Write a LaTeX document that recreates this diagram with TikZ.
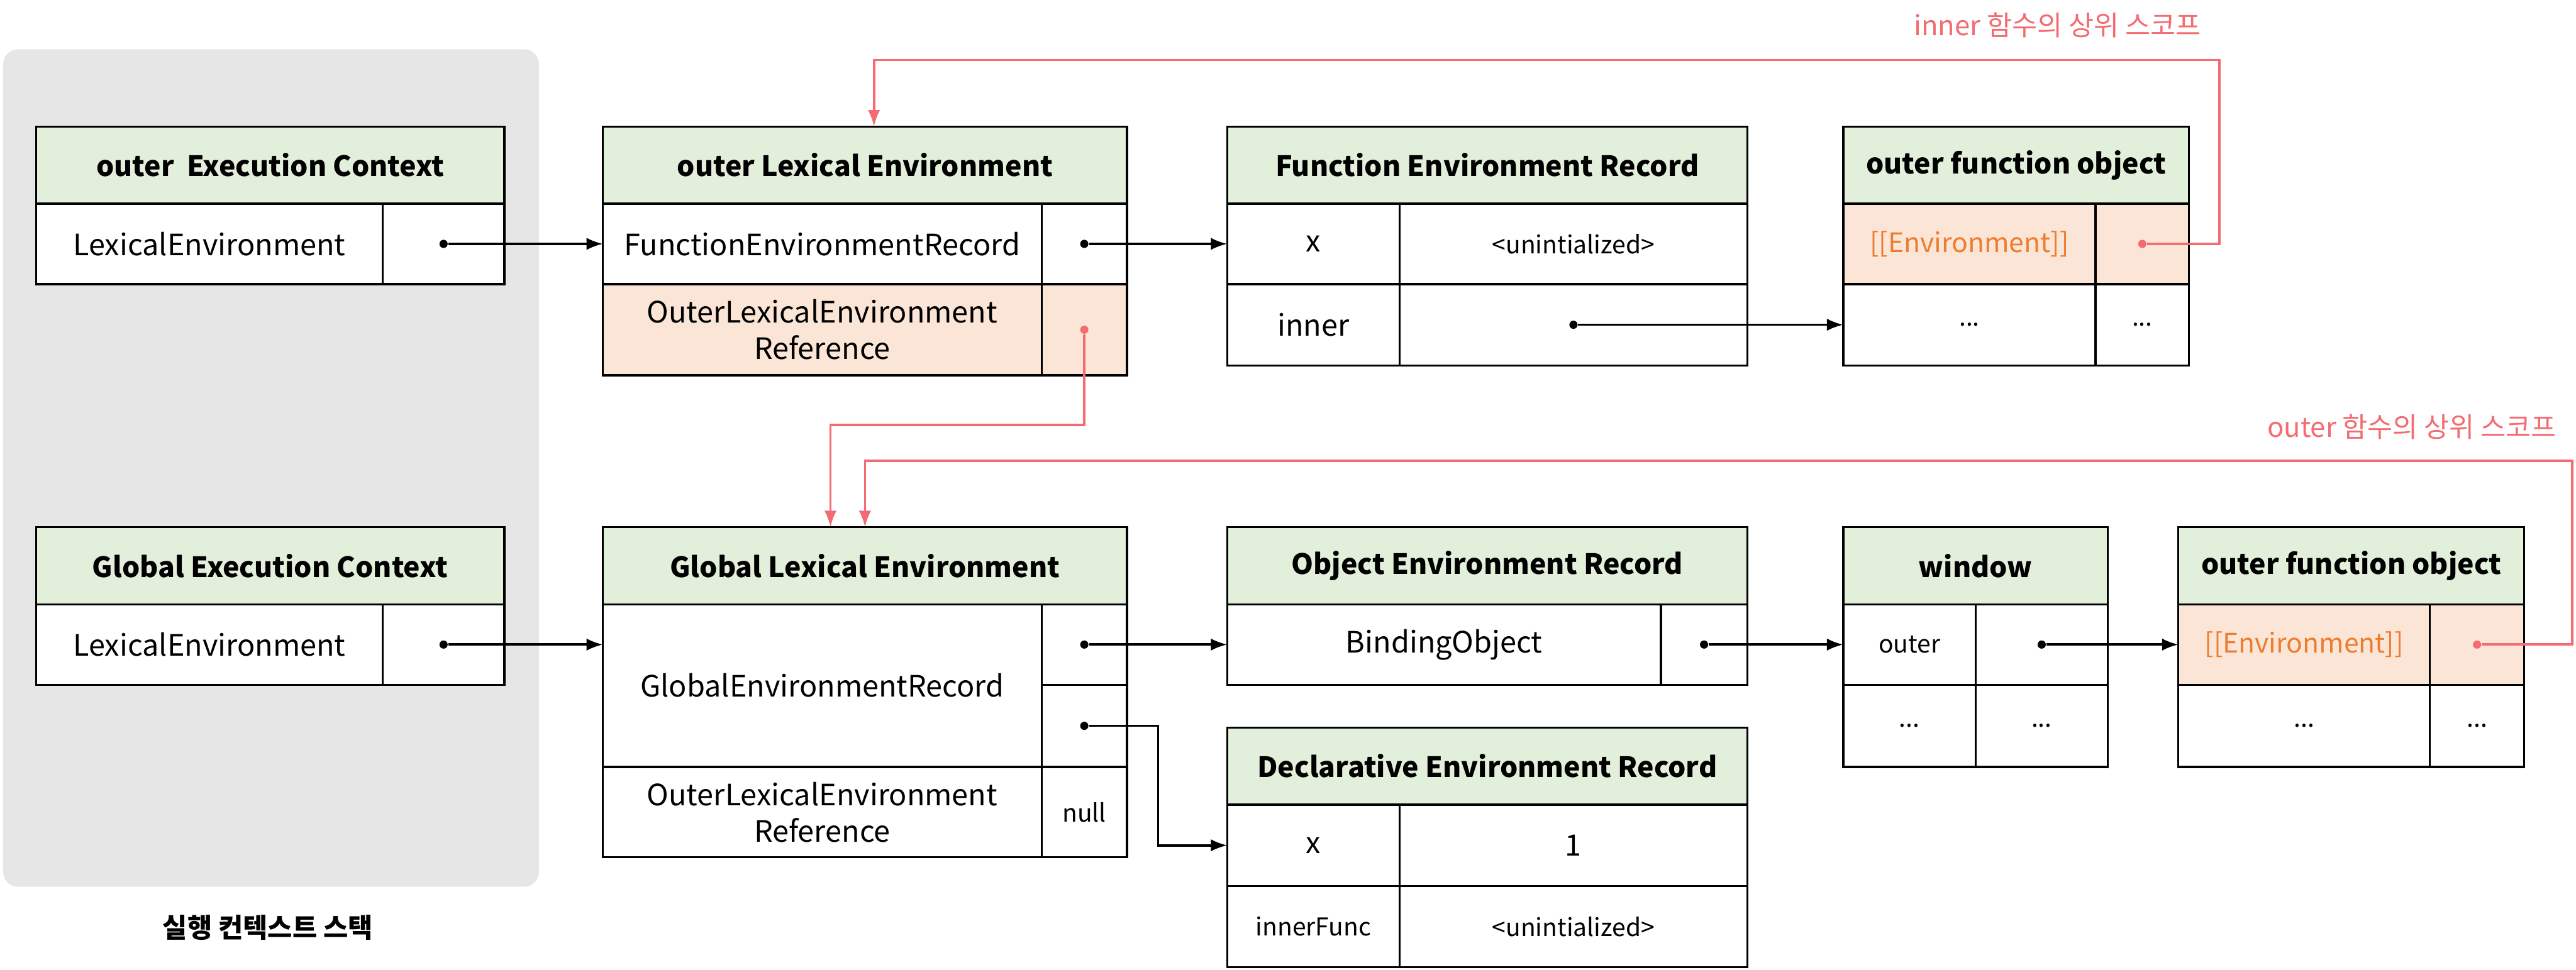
\documentclass[tikz,border=0pt]{standalone}
\usepackage{fontspec}
\setmainfont{Noto Sans CJK KR}
\usepackage{tikz}
\usetikzlibrary{arrows.meta}

\definecolor{hdgreen}{RGB}{226,239,218}
\definecolor{peach}{RGB}{251,229,214}
\definecolor{stackgray}{RGB}{230,230,230}
\definecolor{scopered}{RGB}{242,108,114}
\definecolor{envorange}{RGB}{237,125,49}

\begin{document}
\begin{tikzpicture}[x=0.02cm, y=-0.02cm,
  box/.style 2 args={draw, fill=white, line width=0.7pt, inner sep=0pt, outer sep=0pt, anchor=north west,
    minimum width=#1*0.02cm, minimum height=#2*0.02cm, align=center, font=\fontsize{10.2}{12.6}\selectfont},
  head/.style={fill=hdgreen, font=\fontsize{9.7}{12}\selectfont\bfseries},
  small/.style={font=\fontsize{8.5}{10}\selectfont},
  envcell/.style={fill=peach, text=envorange, font=\fontsize{9.3}{11}\selectfont},
  dot/.style={circle, fill, inner sep=0pt, minimum size=1mm},
  ref/.style={line width=0.8pt, -{Latex[length=2mm, width=1.5mm]}},
  scope/.style={ref, scopered},
  scopelbl/.style={text=scopered, anchor=east, inner sep=0pt, font=\fontsize{9.5}{11}\selectfont},
]

\useasboundingbox (0,0) rectangle (1568,590.5);

\fill[stackgray, rounded corners=1.8mm] (2,30) rectangle (328,540);
\node[font=\fontsize{9.3}{11}\selectfont\bfseries] (stacklbl) at (163,565) {실행 컨텍스트 스택};

\node[box={285}{47}, head] (oech) at (22,77) {outer\ \ Execution Context};
\node[box={211}{49}] (oeck) at (22,124) {LexicalEnvironment};
\node[box={74}{49}] (oecv) at (233,124) {};
\node[dot] (oecdot) at (oecv) {};

\node[box={285}{47}, head] (gech) at (22,321) {Global Execution Context};
\node[box={211}{49}] (geck) at (22,368) {LexicalEnvironment};
\node[box={74}{49}] (gecv) at (233,368) {};
\node[dot] (gecdot) at (gecv) {};

\node[box={319}{47}, head] (oleh) at (367,77) {outer Lexical Environment};
\node[box={267}{49}] (olek) at (367,124) {FunctionEnvironmentRecord};
\node[box={52}{49}] (olev) at (634,124) {};
\node[box={267}{55.5}, fill=peach] (olerk) at (367,173) {OuterLexicalEnvironment\\Reference};
\node[box={52}{55.5}, fill=peach] (olerv) at (634,173) {};
\node[dot] (oledot) at (olev) {};
\node[dot, scopered] (olerdot) at (olerv) {};

\node[box={316.5}{47}, head] (ferh) at (747,77) {Function Environment Record};
\node[box={105}{49}] (ferxk) at (747,124) {x};
\node[box={211.5}{49}, small] (ferxv) at (852,124) {<unintialized>};
\node[box={105}{49.5}] (ferik) at (747,173) {inner};
\node[box={211.5}{49.5}] (feriv) at (852,173) {};
\node[dot] (feridot) at (feriv) {};

\node[box={210.5}{47}, head] (ofoah) at (1122,77) {outer function object};
\node[box={153.5}{49}, envcell] (ofoaek) at (1122,124) {[[Environment]]};
\node[box={57}{49}, fill=peach] (ofoaev) at (1275.5,124) {};
\node[box={153.5}{49.5}, small] (ofoadk) at (1122,173) {...};
\node[box={57}{49.5}, small] (ofoadv) at (1275.5,173) {...};
\node[dot, scopered] (ofoadot) at (ofoaev) {};

\node[box={319}{47}, head] (gleh) at (367,321) {Global Lexical Environment};
\node[box={267}{99}] (glek) at (367,368) {GlobalEnvironmentRecord};
\node[box={52}{49}] (glevo) at (634,368) {};
\node[box={52}{50}] (glevd) at (634,417) {};
\node[box={267}{55}] (glork) at (367,467) {OuterLexicalEnvironment\\Reference};
\node[box={52}{55}, small] (glorv) at (634,467) {null};
\node[dot] (glodot) at (glevo) {};
\node[dot] (glddot) at (glevd) {};

\node[box={316.5}{47}, head] (oerh) at (747,321) {Object Environment Record};
\node[box={264}{49}] (oerk) at (747,368) {BindingObject};
\node[box={52.5}{49}] (oerv) at (1011,368) {};
\node[dot] (oerdot) at (oerv) {};

\node[box={316.5}{47}, head] (derh) at (747,443) {Declarative Environment Record};
\node[box={105}{49.5}] (derxk) at (747,490) {x};
\node[box={211.5}{49.5}] (derxv) at (852,490) {1};
\node[box={105}{49.5}, small] (derik) at (747,539.5) {innerFunc};
\node[box={211.5}{49.5}, small] (deriv) at (852,539.5) {<unintialized>};

\node[box={161}{47}, head] (winh) at (1122,321) {window};
\node[box={80.5}{49}, small] (winok) at (1122,368) {outer};
\node[box={80.5}{49}] (winov) at (1202.5,368) {};
\node[box={80.5}{50}, small] (windk) at (1122,417) {...};
\node[box={80.5}{50}, small] (windv) at (1202.5,417) {...};
\node[dot] (windot) at (winov) {};

\node[box={210.5}{47}, head] (ofobh) at (1326,321) {outer function object};
\node[box={153}{49}, envcell] (ofobek) at (1326,368) {[[Environment]]};
\node[box={57.5}{49}, fill=peach] (ofobev) at (1479,368) {};
\node[box={153}{50}, small] (ofobdk) at (1326,417) {...};
\node[box={57.5}{50}, small] (ofobdv) at (1479,417) {...};
\node[dot, scopered] (ofobdot) at (ofobev) {};

\draw[ref] (oecdot) -- (olek.west);
\draw[ref] (oledot) -- (ferxk.west);
\draw[ref] (feridot) -- (ofoadk.west);
\draw[ref] (gecdot) -- (gecdot -| glek.west);
\draw[ref] (glodot) -- (oerk.west);
\draw[ref] (glddot) -- ++(45,0) |- (derxk.west);
\draw[ref] (oerdot) -- (winok.west);
\draw[ref] (windot) -- (ofobek.west);

\draw[scope] (ofoadot) -| ++(47,-112) -| ([xshift=0.11cm]oleh.north);
\draw[scope] (olerdot) -- ++(0,58) -| ([xshift=-0.42cm]gleh.north);
\draw[scope] (ofobdot) -| ++(58,-112) -| (gleh.north);

\node[scopelbl] (innerlbl) at (1340,15.5) {inner 함수의 상위 스코프};
\node[scopelbl] (outerlbl) at (1556.5,260) {outer 함수의 상위 스코프};

\end{tikzpicture}
\end{document}
